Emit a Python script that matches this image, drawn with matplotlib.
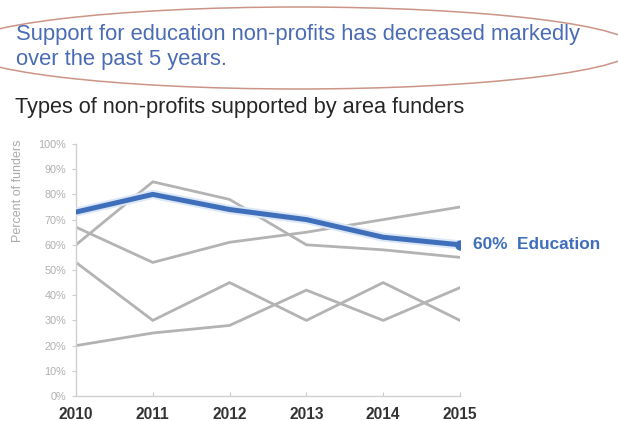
import matplotlib
matplotlib.use("Agg")
import matplotlib.pyplot as plt
from matplotlib.patches import Ellipse
import matplotlib.patheffects as pe

plt.rcParams['font.family'] = ['Liberation Sans', 'DejaVu Sans']

years = [2010, 2011, 2012, 2013, 2014, 2015]
education = [73, 80, 74, 70, 63, 60]
other_series = [
    [60, 85, 78, 60, 58, 55],
    [67, 53, 61, 65, 70, 75],
    [53, 30, 45, 30, 45, 30],
    [20, 25, 28, 42, 30, 43],
]
y_ticks = list(range(0, 101, 10))
headline_lines = ["Support for education non-profits has decreased markedly",
                  "over the past 5 years."]
subtitle = "Types of non-profits supported by area funders"
y_label = "Percent of funders"
highlight_name = "Education"

W, H = 618, 421
fig = plt.figure(figsize=(W / 100, H / 100), dpi=100)
fig.patch.set_facecolor("white")

# headline callout circled with an oval
for i, line in enumerate(headline_lines):
    fig.text(16 / W, 1 - (40 + 25 * i) / H, line, color="#4a6cb5", fontsize=15.8,
             ha="left", va="baseline")
oval = Ellipse((298 / W, 1 - 48 / H), 676 / W, 82 / H, transform=fig.transFigure,
               fill=False, edgecolor="#cc9486", linewidth=1.1)
fig.patches.append(oval)

fig.text(15 / W, 1 - 113 / H, subtitle, color="#262626", fontsize=15.7,
         ha="left", va="baseline")

ax = fig.add_axes([76 / W, 1 - 396 / H, (460 - 76) / W, (396 - 144) / H])
gray = "#b3b3b3"
for s in other_series:
    ax.plot(years, s, color=gray, linewidth=2.0, solid_joinstyle="miter", zorder=2)

blue = "#3f6fba"
ax.plot(years, education, color=blue, linewidth=3.6, solid_joinstyle="round",
        solid_capstyle="round", zorder=4,
        path_effects=[pe.Stroke(linewidth=6.5, foreground="#dbe7f6"), pe.Normal()])
ax.plot(years[-1], education[-1], "o", color=blue, markersize=6.5, zorder=5)
ax.annotate(f"{education[-1]}%  {highlight_name}", (years[-1], education[-1]),
            xytext=(9, 0), textcoords="offset points", ha="left", va="center",
            color=blue, fontsize=12.4, fontweight="bold", annotation_clip=False)

ax.set_xlim(years[0], years[-1])
ax.set_ylim(0, 100)
ax.set_xticks(years)
ax.set_xticklabels([str(y) for y in years], fontsize=11.2, fontweight="bold",
                   color="#333333")
ax.set_yticks(y_ticks)
ax.set_yticklabels([f"{t}%" for t in y_ticks], fontsize=7.8, color="#b0b0b0")
ax.tick_params(axis="y", length=3, width=0.8, color="#cccccc", pad=4)
ax.tick_params(axis="x", length=3, width=0.8, color="#cccccc", pad=8, direction="in")
for side in ("top", "right"):
    ax.spines[side].set_visible(False)
for side in ("left", "bottom"):
    ax.spines[side].set_color("#d0d0d0")
    ax.spines[side].set_linewidth(1.0)

fig.text(18 / W, 1 - 191 / H, y_label, rotation=90, color="#aaaaaa", fontsize=9,
         ha="center", va="center")

fig.savefig("out.png", dpi=100, facecolor="white")
